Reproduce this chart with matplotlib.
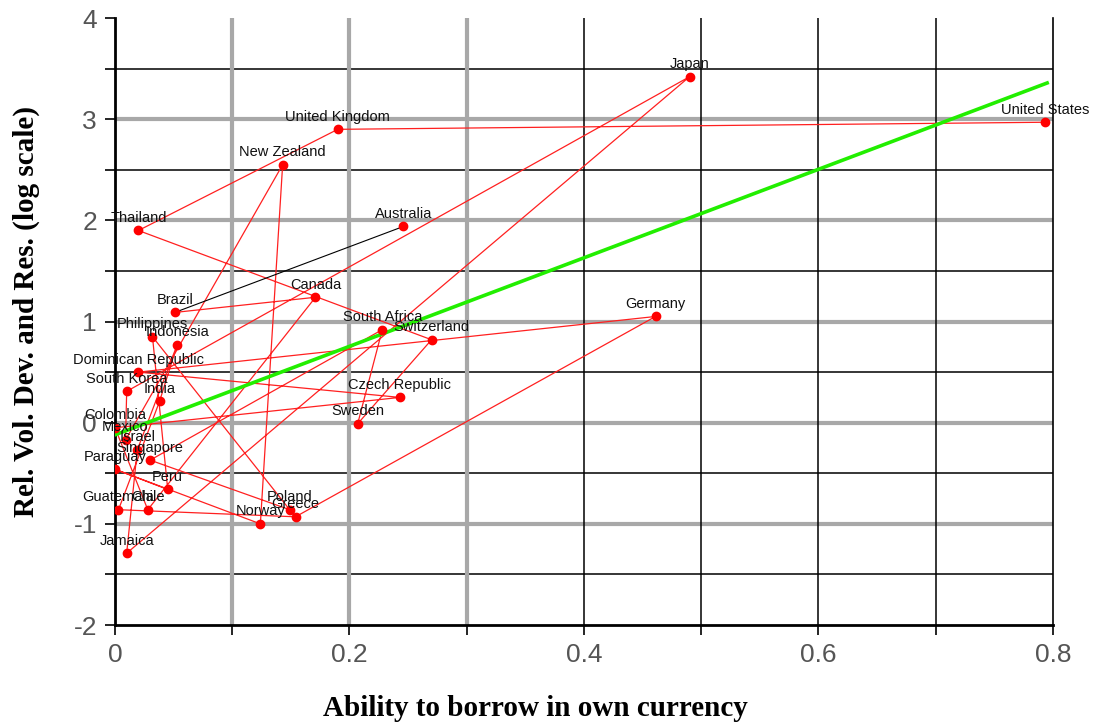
import numpy as np
import matplotlib
matplotlib.use('Agg')
import matplotlib.pyplot as plt

plt.rcParams['axes.unicode_minus'] = False

# countries in data order (lines join consecutive rows)
countries = ['Australia', 'Brazil', 'Canada', 'Chile', 'Colombia', 'Czech Republic',
	'Dominican Republic', 'Germany', 'Greece', 'Guatemala', 'India', 'Indonesia',
	'Israel', 'Jamaica', 'Japan', 'South Korea', 'Mexico', 'New Zealand', 'Norway',
	'Paraguay', 'Peru', 'Philippines', 'Poland', 'Singapore', 'South Africa',
	'Sweden', 'Switzerland', 'Thailand', 'United Kingdom', 'United States']
borrow = [0.246, 0.051, 0.171, 0.028, 0.0, 0.243,
	0.020, 0.461, 0.154, 0.003, 0.038, 0.053,
	0.019, 0.010, 0.490, 0.010, 0.009, 0.143, 0.124,
	0.0, 0.045, 0.032, 0.149, 0.030, 0.228,
	0.207, 0.270, 0.020, 0.190, 0.793]
rel_vol = [1.94, 1.09, 1.24, -0.86, -0.05, 0.25,
	0.50, 1.05, -0.93, -0.86, 0.21, 0.77,
	-0.27, -1.29, 3.42, 0.31, -0.17, 2.55, -1.00,
	-0.46, -0.66, 0.85, -0.86, -0.37, 0.92,
	-0.01, 0.82, 1.90, 2.90, 2.97]

# fitted line
fit_intercept = -0.12
fit_slope = 4.375
fit_x_end = 0.795

x_tick_values = [0, 0.2, 0.4, 0.6, 0.8]
x_tick_labels = ['0', '0.2', '0.4', '0.6', '0.8']
y_tick_values = [-2, -1, 0, 1, 2, 3, 4]


def draw_grid(ax) -> None:
	for yv in np.arange(-1.5, 4.0, 0.5):
		if float(yv).is_integer():
			ax.axhline(yv, color='#a8a8a8', lw=3, zorder=1)
		else:
			ax.axhline(yv, color='black', lw=1.1, zorder=1)
	for xv in np.arange(0.1, 0.75, 0.1):
		if xv < 0.35:
			ax.axvline(xv, color='#a8a8a8', lw=3, zorder=1)
		else:
			ax.axvline(xv, color='black', lw=1.1, zorder=1)


def main() -> None:
	fig = plt.figure(figsize=(10.97, 7.22), dpi=100)
	ax = fig.add_axes([0.1048, 0.1343, 0.8551, 0.8407])
	ax.set_xlim(0, 0.8)
	ax.set_ylim(-2, 4)

	draw_grid(ax)

	bx = np.array(borrow)
	ry = np.array(rel_vol)
	ax.plot(bx[1:], ry[1:], color='#ff2020', lw=0.9, zorder=3)
	ax.plot(bx[:2], ry[:2], color='black', lw=0.8, zorder=3)
	ax.plot(bx, ry, 'o', color='red', ms=6, zorder=5)

	fit_x = np.array([0, fit_x_end])
	ax.plot(fit_x, fit_intercept + fit_slope * fit_x, color='#22ee00', lw=2.6, zorder=4)

	for name, xv, yv in zip(countries, borrow, rel_vol):
		ax.annotate(name, (xv, yv), xytext=(0, 4), textcoords='offset points',
			ha='center', va='bottom', fontsize=10.5, family='Liberation Sans',
			color='#111111', zorder=6, annotation_clip=False)

	ax.spines['top'].set_visible(False)
	ax.spines['left'].set_linewidth(2)
	ax.spines['bottom'].set_linewidth(2)
	ax.spines['right'].set_linewidth(1.2)

	ax.set_xticks(x_tick_values)
	ax.set_xticklabels(x_tick_labels)
	ax.set_xticks(np.arange(0.1, 0.8, 0.2), minor=True)
	ax.set_yticks(y_tick_values)
	ax.set_yticks(np.arange(-1.5, 4.0, 1.0), minor=True)
	ax.tick_params(axis='both', which='both', direction='out', length=7, width=1.2)
	ax.tick_params(axis='both', which='major', labelsize=19, labelcolor='#555555', pad=6)
	for lab in ax.get_xticklabels() + ax.get_yticklabels():
		lab.set_family('Liberation Sans')

	ax.set_xlabel('Ability to borrow in own currency', family='Liberation Serif',
		fontweight='bold', fontsize=21)
	ax.xaxis.set_label_coords(0.448, -0.115)
	ax.set_ylabel('Rel. Vol. Dev. and Res. (log scale)', family='Liberation Serif',
		fontweight='bold', fontsize=21)
	ax.yaxis.set_label_coords(-0.08, 0.516)

	fig.savefig('out.png', dpi=100)


if __name__ == '__main__':
	main()
